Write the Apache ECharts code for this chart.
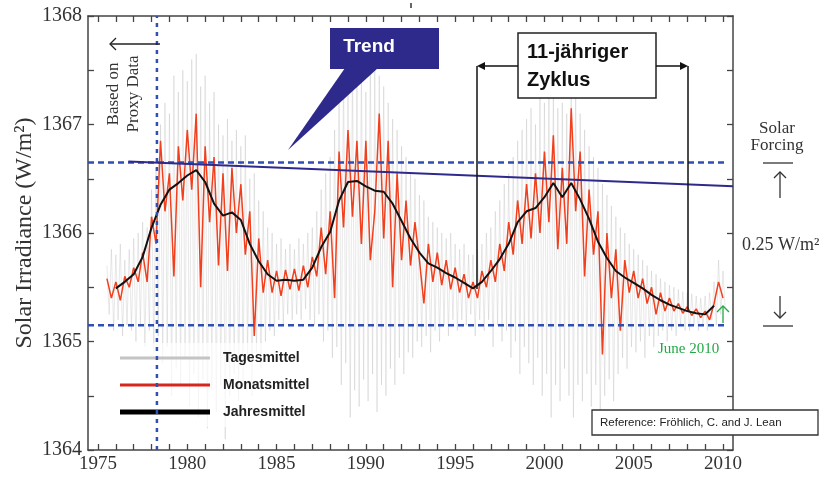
<!DOCTYPE html>
<html>
<head>
<meta charset="utf-8">
<script src="https://cdn.jsdelivr.net/npm/echarts@6/dist/echarts.min.js"></script>
<style>
  html, body { margin: 0; padding: 0; background: #fff; }
  #chart { width: 836px; height: 477px; }
</style>
</head>
<body>
<div id="chart"></div>
<script>
// quarterly samples starting 1975.5
const quarterStart = 1975.5;
const quarterStep = 0.25;

// Tagesmittel: upper / lower reach of the daily spikes per quarter
const dailyHigh = [
  1365.70, 1365.85,
  1365.80, 1365.90, 1365.75, 1365.85,
  1365.95, 1366.00, 1366.10, 1366.05,
  1366.40, 1366.60, 1367.00, 1367.20,
  1367.10, 1367.45, 1367.30, 1367.50,
  1367.40, 1367.60, 1367.65, 1367.35,
  1367.45, 1367.20, 1367.30, 1367.00,
  1366.90, 1367.05, 1366.85, 1366.95,
  1366.80, 1366.90, 1366.50, 1366.55,
  1366.30, 1366.20, 1366.05, 1366.00,
  1365.90, 1365.95, 1365.85, 1365.90,
  1365.85, 1365.95, 1365.90, 1366.00,
  1366.05, 1366.20, 1366.40, 1366.55,
  1366.70, 1366.95, 1367.30, 1367.50,
  1367.35, 1367.60, 1367.40, 1367.55,
  1367.30, 1367.65, 1367.50, 1367.45,
  1367.35, 1367.20, 1367.05, 1366.95,
  1366.80, 1366.70, 1366.55, 1366.50,
  1366.35, 1366.30, 1366.15, 1366.10,
  1366.05, 1366.00, 1365.95, 1366.00,
  1365.90, 1365.85, 1365.90, 1365.80,
  1365.80, 1365.85, 1365.90, 1366.00,
  1366.05, 1366.20, 1366.30, 1366.45,
  1366.55, 1366.70, 1366.85, 1366.95,
  1367.05, 1367.15, 1367.00, 1367.25,
  1367.20, 1367.30, 1367.35, 1367.15,
  1367.20, 1367.10, 1367.45, 1367.30,
  1367.10, 1366.95, 1366.80, 1366.70,
  1366.60, 1366.45, 1366.35, 1366.25,
  1366.15, 1366.05, 1366.00, 1365.90,
  1365.85, 1365.80, 1365.75, 1365.70,
  1365.65, 1365.62, 1365.58, 1365.55,
  1365.52, 1365.50, 1365.48, 1365.46,
  1365.45, 1365.44, 1365.42, 1365.40,
  1365.42, 1365.45, 1365.55, 1365.75,
  1365.65
];
const dailyLow = [
  1365.25, 1365.10,
  1365.20, 1365.05, 1365.15, 1365.10,
  1365.00, 1365.15, 1364.95, 1365.10,
  1364.90, 1365.05, 1364.80, 1364.95,
  1364.50, 1364.75, 1364.60, 1364.85,
  1364.40, 1364.70, 1364.30, 1364.65,
  1364.20, 1364.55, 1364.35, 1364.60,
  1364.10, 1364.50, 1364.70, 1364.45,
  1364.60, 1364.85, 1364.50, 1364.90,
  1364.75, 1365.00, 1365.10, 1365.05,
  1365.20, 1365.15, 1365.25, 1365.20,
  1365.25, 1365.20, 1365.30, 1365.20,
  1365.15, 1365.25, 1365.00, 1365.10,
  1364.85, 1364.95, 1364.60, 1364.80,
  1364.30, 1364.55, 1364.40, 1364.65,
  1364.45, 1364.70, 1364.35, 1364.60,
  1364.50, 1364.75, 1364.60, 1364.85,
  1364.70, 1364.90, 1364.85, 1365.00,
  1364.95, 1365.05, 1364.90, 1365.10,
  1365.00, 1365.15, 1365.05, 1365.20,
  1365.10, 1365.20, 1365.15, 1365.25,
  1365.05, 1365.20, 1365.10, 1365.20,
  1364.95, 1365.15, 1365.00, 1365.10,
  1364.85, 1365.00, 1364.70, 1364.95,
  1364.80, 1364.60, 1364.85, 1364.50,
  1364.70, 1364.30, 1364.60, 1364.45,
  1364.75, 1364.50, 1364.30, 1364.60,
  1364.45, 1364.70, 1364.40, 1364.60,
  1364.20, 1364.50, 1364.65, 1364.45,
  1364.70, 1364.85, 1364.75, 1364.95,
  1364.90, 1365.00, 1364.85, 1365.05,
  1364.95, 1365.05, 1365.10, 1365.00,
  1365.10, 1365.05, 1365.15, 1365.10,
  1365.10, 1365.15, 1365.10, 1365.15,
  1365.10, 1365.20, 1365.15, 1365.25,
  1365.30
];

// Monatsmittel (sampled per quarter)
const monthly = [
  1365.58, 1365.40,
  1365.55, 1365.38, 1365.60, 1365.50,
  1365.68, 1365.55, 1365.82, 1365.55,
  1366.15, 1365.90, 1366.85, 1366.20,
  1366.55, 1365.60, 1366.80, 1366.30,
  1366.95, 1366.40, 1367.10, 1365.50,
  1366.80, 1366.10, 1366.70, 1365.70,
  1366.55, 1365.65, 1366.60, 1366.00,
  1366.45, 1365.80, 1366.20, 1365.05,
  1365.95, 1365.45, 1365.75, 1365.45,
  1365.65, 1365.42, 1365.66, 1365.48,
  1365.67, 1365.47, 1365.70, 1365.50,
  1365.78, 1365.60, 1366.05, 1365.62,
  1366.20, 1365.40, 1366.75, 1366.05,
  1366.95, 1366.15, 1366.85, 1365.90,
  1366.85, 1365.75, 1366.20, 1367.10,
  1365.95, 1366.85, 1365.50, 1366.55,
  1365.75, 1366.30, 1365.70, 1366.10,
  1365.75, 1365.35, 1365.90, 1365.55,
  1365.82, 1365.52, 1365.75, 1365.48,
  1365.68, 1365.45, 1365.62, 1365.40,
  1365.55, 1365.40, 1365.65, 1365.50,
  1365.75, 1365.55, 1365.90, 1365.65,
  1366.10, 1365.80, 1366.30, 1365.90,
  1366.45, 1365.95, 1366.55, 1366.00,
  1366.75, 1366.10, 1366.90, 1365.85,
  1366.60, 1365.90, 1367.15, 1366.20,
  1366.75, 1365.60, 1366.40, 1365.80,
  1366.20, 1364.88, 1366.00, 1365.40,
  1365.85, 1365.10, 1365.75, 1365.45,
  1365.65, 1365.40, 1365.58, 1365.35,
  1365.50, 1365.25, 1365.45, 1365.28,
  1365.40, 1365.28, 1365.35, 1365.26,
  1365.32, 1365.24, 1365.30, 1365.22,
  1365.28, 1365.20, 1365.35, 1365.55,
  1365.40
];

// Jahresmittel, half-year samples starting 1976.0
const annualStart = 1976.0;
const annualStep = 0.5;
const annual = [
  1365.49, 1365.55, 1365.62, 1365.78, 1366.05, 1366.26, 1366.40, 1366.46,
  1366.53, 1366.58, 1366.47, 1366.27, 1366.16, 1366.19, 1366.12, 1365.90,
  1365.74, 1365.62, 1365.56, 1365.57, 1365.56, 1365.57, 1365.68, 1365.87,
  1366.01, 1366.30, 1366.47, 1366.48, 1366.43, 1366.39, 1366.38, 1366.27,
  1366.11, 1365.95, 1365.82, 1365.72, 1365.68, 1365.63, 1365.59, 1365.54,
  1365.49, 1365.55, 1365.65, 1365.76, 1365.90, 1366.10, 1366.20, 1366.23,
  1366.33, 1366.46, 1366.33, 1366.46, 1366.31, 1366.13, 1365.92, 1365.77,
  1365.65, 1365.59, 1365.54, 1365.49, 1365.43, 1365.38, 1365.34, 1365.31,
  1365.28, 1365.26, 1365.25, 1365.33
];

// reference lines
const proxyYear = 1978.3;
const upperLevel = 1366.65;
const lowerLevel = 1365.15;
const levelEnd = 2010.1;
const trendYears = [1976.7, 2010.56];
const trendValues = [1366.66, 1366.43];

const xMin = 1974.44, xMax = 2010.56;
const xLabels = [1975, 1980, 1985, 1990, 1995, 2000, 2005, 2010];
const xTicks = [];
for (let y = 1975; y <= 2010; y++) xTicks.push(y);

const dailyData = [];
dailyHigh.forEach((h, i) => {
  const t = quarterStart + i * quarterStep;
  dailyData.push([t, h]);
  dailyData.push([t + quarterStep / 2, dailyLow[i]]);
});
const monthlyData = monthly.map((v, i) => [quarterStart + i * quarterStep, v]);
const annualData = annual.map((v, i) => [annualStart + i * annualStep, v]);

const serif = '"Liberation Serif", "Times New Roman", serif';
const sans = '"Liberation Sans", Arial, sans-serif';
const blue = '#2f4fb3';
const navy = '#2e2a8c';

const chart = echarts.init(document.getElementById('chart'));

function arrowHead(x, y, dir, color) {
  // open chevron pointing in dir
  const s = 6;
  let pts;
  if (dir === 'left') pts = [[x + s, y - s], [x, y], [x + s, y + s]];
  if (dir === 'up') pts = [[x - s, y + s], [x, y], [x + s, y + s]];
  if (dir === 'down') pts = [[x - s, y - s], [x, y], [x + s, y - s]];
  return { type: 'polyline', shape: { points: pts }, style: { stroke: color, lineWidth: 1.3, fill: null }, z: 100 };
}
function line(x1, y1, x2, y2, color, w) {
  return { type: 'line', shape: { x1, y1, x2, y2 }, style: { stroke: color, lineWidth: w || 1.3 }, z: 100 };
}
function tri(pts, color) {
  return { type: 'polygon', shape: { points: pts }, style: { fill: color }, z: 100 };
}

const axisColor = '#444';

chart.setOption({
  animation: false,
  grid: { left: 88, right: 103, top: 16, bottom: 27 },
  legend: {
    left: 112,
    top: 343,
    orient: 'vertical',
    itemWidth: 90,
    itemHeight: 6,
    itemGap: 9,
    padding: [6, 8, 6, 8],
    backgroundColor: 'rgba(255,255,255,0.72)',
    textStyle: { fontFamily: sans, fontWeight: 'bold', fontSize: 14, color: '#222', lineHeight: 18, padding: [0, 0, 0, 8] },
    data: [
      { name: 'Tagesmittel', icon: 'path://M0,0L90,0L90,3L0,3Z', itemStyle: { color: '#c4c4c4' } },
      { name: 'Monatsmittel', icon: 'path://M0,0L90,0L90,3L0,3Z', itemStyle: { color: '#d9261c' } },
      { name: 'Jahresmittel', icon: 'path://M0,0L90,0L90,5L0,5Z', itemStyle: { color: '#000' } }
    ]
  },
  xAxis: [{
    type: 'value', min: xMin, max: xMax,
    axisLine: { lineStyle: { color: axisColor, width: 1.5 } },
    axisTick: { inside: true, length: 6, customValues: xTicks, lineStyle: { color: axisColor, width: 1.3 } },
    axisLabel: { customValues: xLabels, fontFamily: serif, fontSize: 19, color: '#333', margin: 5, formatter: v => String(Math.round(v)) },
    splitLine: { show: false }
  }, {
    type: 'value', min: xMin, max: xMax, position: 'top',
    axisLine: { lineStyle: { color: axisColor, width: 1.5 } },
    axisTick: { inside: true, length: 6, customValues: xTicks, lineStyle: { color: axisColor, width: 1.3 } },
    axisLabel: { show: false },
    splitLine: { show: false }
  }],
  yAxis: [{
    type: 'value', min: 1364, max: 1368, interval: 0.5,
    name: 'Solar Irradiance (W/m²)',
    nameLocation: 'middle',
    nameGap: 51,
    nameMoveOverlap: false,
    nameTextStyle: { fontFamily: serif, fontSize: 24, color: '#333' },
    axisLine: { show: true, lineStyle: { color: axisColor, width: 1.5 } },
    axisTick: { show: true, inside: true, length: 6, lineStyle: { color: axisColor, width: 1.3 } },
    axisLabel: { fontFamily: serif, fontSize: 20, color: '#333', margin: 6, formatter: v => Number.isInteger(v) ? String(v) : '' },
    splitLine: { show: false }
  }, {
    type: 'value', min: 1364, max: 1368, interval: 0.5, position: 'right',
    axisLine: { show: true, lineStyle: { color: axisColor, width: 1.5 } },
    axisTick: { show: true, inside: true, length: 6, lineStyle: { color: axisColor, width: 1.3 } },
    axisLabel: { show: false },
    splitLine: { show: false }
  }],
  series: [
    {
      name: 'Tagesmittel', type: 'line', showSymbol: false, symbol: 'none',
      data: dailyData,
      lineStyle: { color: 'rgba(170,170,170,0.3)', width: 0.9 },
      itemStyle: { color: '#c4c4c4' }, z: 1
    },
    {
      name: 'Monatsmittel', type: 'line', showSymbol: false, symbol: 'none',
      data: monthlyData,
      lineStyle: { color: '#f2401e', width: 1.5 },
      itemStyle: { color: '#d9261c' }, z: 2
    },
    {
      name: 'Jahresmittel', type: 'line', showSymbol: false, symbol: 'none',
      data: annualData,
      lineStyle: { color: '#111', width: 2 },
      itemStyle: { color: '#000' }, z: 3
    },
    {
      type: 'line', symbol: 'none', silent: true, z: 4,
      data: [[xMin, upperLevel], [levelEnd, upperLevel]],
      lineStyle: { color: blue, width: 2.5, type: [6, 4] }
    },
    {
      type: 'line', symbol: 'none', silent: true, z: 4,
      data: [[xMin, lowerLevel], [levelEnd, lowerLevel]],
      lineStyle: { color: blue, width: 2.5, type: [6, 4] }
    },
    {
      type: 'line', symbol: 'none', silent: true, z: 4,
      data: [[proxyYear, 1364], [proxyYear, 1368]],
      lineStyle: { color: blue, width: 2.5, type: [4, 5] }
    },
    {
      type: 'line', symbol: 'none', silent: true, z: 5,
      data: [[trendYears[0], trendValues[0]], [trendYears[1], trendValues[1]]],
      lineStyle: { color: navy, width: 2 }
    }
  ],
  graphic: [
    // trend callout
    tri([[345, 68], [378, 68], [288, 150]], navy),
    { type: 'rect', shape: { x: 330, y: 28, width: 109, height: 41 }, style: { fill: navy }, z: 100 },
    { type: 'text', x: 369, y: 47, style: { text: 'Trend', fill: '#fff', font: 'bold 19px ' + sans, align: 'center', verticalAlign: 'middle' }, z: 101 },

    // 11-year cycle box and arrows
    { type: 'rect', shape: { x: 518, y: 33, width: 138, height: 65 }, style: { fill: '#fff', stroke: '#222', lineWidth: 1.5 }, z: 100 },
    { type: 'text', x: 527, y: 66, style: { text: '11-jähriger\nZyklus', fill: '#111', font: 'bold 20px ' + sans, lineHeight: 28, align: 'left', verticalAlign: 'middle' }, z: 101 },
    line(518, 66, 482, 66, '#111', 1.5),
    tri([[477, 66], [485, 62], [485, 70]], '#111'),
    line(477, 66, 477, 289, '#111', 1.5),
    line(656, 66, 683, 66, '#111', 1.5),
    tri([[688, 66], [680, 62], [680, 70]], '#111'),
    line(688, 66, 688, 312, '#111', 1.5),

    // proxy data note
    line(110, 44, 160, 44, '#222', 1.5),
    arrowHead(110, 44, 'left', '#222'),
    { type: 'text', x: 124, y: 94, rotation: Math.PI / 2, style: { text: 'Based on\nProxy Data', fill: '#333', font: '17px ' + serif, lineHeight: 20, align: 'center', verticalAlign: 'middle' }, z: 101 },

    // solar forcing scale on the right
    { type: 'text', x: 777, y: 137, style: { text: 'Solar\nForcing', fill: '#333', font: '17px ' + serif, lineHeight: 17, align: 'center', verticalAlign: 'middle' }, z: 101 },
    line(763, 163, 793, 163, '#333', 1.3),
    line(780, 172, 780, 198, '#333', 1.3),
    arrowHead(780, 172, 'up', '#333'),
    { type: 'text', x: 742, y: 245, style: { text: '0.25 W/m²', fill: '#333', font: '18px ' + serif, align: 'left', verticalAlign: 'middle' }, z: 101 },
    line(780, 296, 780, 318, '#333', 1.3),
    arrowHead(780, 318, 'down', '#333'),
    line(763, 326, 793, 326, '#333', 1.3),

    // June 2010 marker
    line(723, 323, 723, 306, '#22a845', 1.3),
    arrowHead(723, 306, 'up', '#22a845'),
    { type: 'text', x: 658, y: 349, style: { text: 'June 2010', fill: '#22a845', font: '15px ' + serif, align: 'left', verticalAlign: 'middle' }, z: 101 },

    // reference box
    { type: 'rect', shape: { x: 592, y: 410, width: 226, height: 25 }, style: { fill: '#fff', stroke: '#333', lineWidth: 1.3 }, z: 100 },
    { type: 'text', x: 600, y: 423, style: { text: 'Reference: Fröhlich, C. and J. Lean', fill: '#222', font: '11.5px ' + sans, align: 'left', verticalAlign: 'middle' }, z: 101 },

    line(411, 3, 411, 8, '#333', 1.5)
  ]
});
</script>
</body>
</html>
